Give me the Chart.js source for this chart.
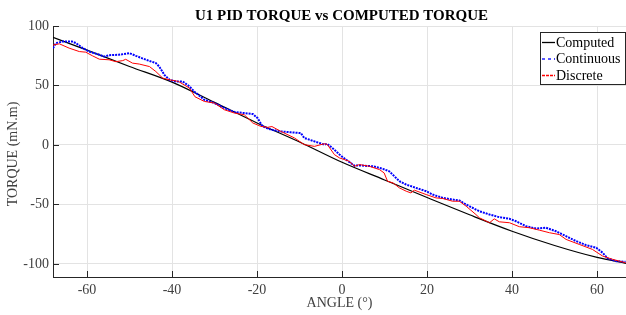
<!DOCTYPE html>
<html>
<head>
<meta charset="utf-8">
<script src="https://cdn.jsdelivr.net/npm/chart.js@4.4.1/dist/chart.umd.min.js"></script>
<style>
  html, body { margin: 0; padding: 0; background: #fff; }
  #wrap { width: 626px; height: 315px; }
</style>
</head>
<body>
<div id="wrap"><canvas id="myChart" width="626" height="315"></canvas></div>
<script>
// values
const computedAngle = [-68, -60, -50, -40, -30, -20, -10, 0, 10, 20, 30, 40, 50, 60, 66.8];
const computedTorque = [90.5, 79.7, 66, 52.8, 35.8, 18.5, 2.5, -14.6, -29.4, -44.2, -58.7, -72.5, -84.5, -94.5, -99.5];

const continuousAngle = [-68, -67.3, -65.8, -63.5, -62.6, -61, -59.5, -57.1, -55.9, -54.8, -52.5, -50, -48.5, -46.1,
  -43.8, -43, -41.8, -40.6, -39.1, -37.5, -35.9, -34.8, -32.4, -30, -27.7, -25.3, -23, -21, -19.9, -18.7, -16.7,
  -14.4, -12, -9.7, -8.9, -6.5, -4.2, -3.5, -1.8, -0.6, 0.9, 2.9, 4.1, 7.2, 9.6, 11.1, 12.3, 13.5, 15.1, 17.4, 19.8,
  21.3, 23.7, 26, 27.6, 29.2, 31.5, 32.3, 34.7, 37, 39.4, 40.9, 43.3, 45.6, 48, 50.3, 52.7, 55.1, 57.4, 59.8, 61.3,
  62.5, 64.5, 66.7];
const continuousTorque = [81.4, 85.6, 86.9, 86.9, 85.6, 81.4, 78.5, 75.8, 74.3, 75.5, 75.8, 77.2, 74.9, 71.6,
  68.8, 65.9, 58.9, 54.8, 53.4, 53.4, 49.2, 45, 38, 35.2, 31, 27.7, 26.8, 26, 22.7, 15.6, 12.8,
  11.4, 10.6, 10, 5.9, 3, 0.3, 1, -4, -8.1, -12.3, -17.4, -17.2, -17.9, -20.1, -22.1, -26.3, -30.5, -33.3, -36.1, -38.9,
  -41.7, -44.5, -45.9, -46.7, -50.1, -54.3, -55.7, -58.5, -60.7, -62.1, -64.1, -68.3, -70.2, -69.6, -72.5, -76.7, -80.9, -84.2, -86.4, -90.6,
  -95.4, -97.7, -98.2];

const discreteAngle = [-68, -66.5, -64.2, -61.8, -60.3, -58.7, -57.1, -54.8, -53.2, -51.6, -50.9, -49.3, -47.7, -45.3,
  -43.8, -42.2, -40.6, -38.5, -35.9, -34.6, -32.4, -30, -27.7, -25.3, -23, -21, -19.1, -17.5, -16.5, -14.4, -11.2,
  -8.9, -6.5, -4.2, -3.5, -1.8, -0.6, 1.7, 2.9, 4.1, 6.4, 8.8, 9.9, 10.7, 12, 13.5, 15.1, 16.2, 17, 19.8, 22.1,
  23.7, 26, 27.6, 29.2, 31.5, 32.3, 34.7, 35.8, 37, 39.4, 41.7, 44.1, 46.4, 48.8, 51.1, 52.7, 55.8, 58.9, 61.3, 63.7, 66.7];
const discreteTorque = [84, 85, 81.4, 78.5, 78, 74.9, 72.1, 71.6, 70, 70.9, 72, 68.8, 68, 65.9,
  61.7, 56.2, 54.8, 53.4, 47.8, 40.5, 36.6, 35.2, 29.6, 26.8, 25.4, 18.5, 15.6, 14.8, 15.5, 11.4, 5.9,
  0.3, -1.2, 1, 0.5, -8.1, -10.9, -13.7, -17.9, -16.5, -17.9, -20.7, -23.5, -30.5, -31.9, -36.1, -38.9, -40.3, -38, -41.7, -44.5,
  -45, -47.3, -47.3, -51.5, -58.5, -61.2, -65.4, -62.1, -64.6, -65.4, -68.7, -69.6, -71.6, -73.8, -75.3, -79.4, -83.6, -87.8, -93.4, -96.2, -99];

const xTicks = [-60, -40, -20, 0, 20, 40, 60];
const yTicks = [-100, -50, 0, 50, 100];
const seriesNames = ['Computed', 'Continuous', 'Discrete'];
const seriesColors = ['#000000', '#0000ff', '#ff0000'];
const legendDash = [[], [3, 3], [3, 1]];

const serif = '"Liberation Serif", "DejaVu Serif", serif';
const textColor = '#404040';

const toPoints = (xs, ys) => xs.map((x, i) => ({ x: x, y: ys[i] }));

// ticks inside the box, title, axis labels and legend, drawn like the matlab figure
const figureDecor = {
  id: 'figureDecor',
  afterDraw(chart) {
    const { ctx, chartArea: a, scales } = chart;
    ctx.save();
    ctx.strokeStyle = '#262626';
    ctx.lineWidth = 1;
    xTicks.forEach((t) => {
      const px = Math.round(scales.x.getPixelForValue(t)) + 0.5;
      ctx.beginPath();
      ctx.moveTo(px, a.bottom);
      ctx.lineTo(px, a.bottom - 6);
      ctx.stroke();
    });
    yTicks.forEach((t) => {
      const py = Math.round(scales.y.getPixelForValue(t)) + 0.5;
      ctx.beginPath();
      ctx.moveTo(a.left, py);
      ctx.lineTo(a.left + 6, py);
      ctx.stroke();
    });

    // title
    ctx.fillStyle = '#000';
    ctx.font = 'bold 15px ' + serif;
    ctx.textAlign = 'center';
    ctx.textBaseline = 'middle';
    ctx.fillText('U1 PID TORQUE vs COMPUTED TORQUE', (a.left + a.right) / 2 + 2, 16);

    // axis labels
    ctx.fillStyle = textColor;
    ctx.font = '14px ' + serif;
    ctx.fillText('ANGLE (\u00B0)', (a.left + a.right) / 2, 303);
    ctx.save();
    ctx.translate(13, 154);
    ctx.rotate(-Math.PI / 2);
    ctx.fillText('TORQUE (mN.m)', 0, 0);
    ctx.restore();

    // legend
    const lx = 540, ly = 32, lw = 85, lh = 52;
    ctx.fillStyle = '#fff';
    ctx.fillRect(lx, ly, lw, lh);
    ctx.strokeStyle = '#262626';
    ctx.strokeRect(lx + 0.5, ly + 0.5, lw, lh);
    seriesNames.forEach((name, i) => {
      const y = ly + 10 + i * 16.5;
      ctx.beginPath();
      ctx.strokeStyle = seriesColors[i];
      ctx.lineWidth = 1.3;
      ctx.setLineDash(legendDash[i]);
      ctx.moveTo(lx + 2, y + 0.5);
      ctx.lineTo(lx + 15, y + 0.5);
      ctx.stroke();
      ctx.setLineDash([]);
      ctx.fillStyle = '#000';
      ctx.font = '14px ' + serif;
      ctx.textAlign = 'left';
      ctx.fillText(name, lx + 16, y + 1);
    });
    ctx.restore();
  },
};

new Chart(document.getElementById('myChart'), {
  type: 'line',
  data: {
    datasets: [
      {
        label: seriesNames[0],
        data: toPoints(computedAngle, computedTorque),
        borderColor: seriesColors[0],
        borderWidth: 1.2,
        cubicInterpolationMode: 'monotone',
        pointRadius: 0,
        order: 3,
      },
      {
        label: seriesNames[1],
        data: toPoints(continuousAngle, continuousTorque),
        borderColor: seriesColors[1],
        borderWidth: 2,
        borderDash: [2, 1],
        pointRadius: 0,
        order: 2,
      },
      {
        label: seriesNames[2],
        data: toPoints(discreteAngle, discreteTorque),
        borderColor: seriesColors[2],
        borderWidth: 1,
        pointRadius: 0,
        order: 1,
      },
    ],
  },
  options: {
    responsive: false,
    animation: false,
    layout: { padding: { top: 26, right: 0, left: 0, bottom: 0 } },
    plugins: {
      legend: { display: false },
      title: { display: false },
      tooltip: { enabled: false },
    },
    scales: {
      x: {
        type: 'linear',
        min: -68,
        max: 66.8,
        afterFit: (s) => { s.height = 38; },
        afterBuildTicks: (s) => { s.ticks = xTicks.map((v) => ({ value: v })); },
        grid: { color: '#e3e3e3', drawTicks: false },
        border: { display: true, color: '#262626', width: 1 },
        ticks: { color: textColor, font: { family: serif, size: 14 }, padding: 5 },
      },
      y: {
        type: 'linear',
        min: -111,
        max: 100,
        afterFit: (s) => { s.width = 53; },
        afterBuildTicks: (s) => { s.ticks = yTicks.map((v) => ({ value: v })); },
        grid: { color: '#e3e3e3', drawTicks: false },
        border: { display: true, color: '#262626', width: 1 },
        ticks: { color: textColor, font: { family: serif, size: 14 }, padding: 4 },
      },
    },
  },
  plugins: [figureDecor],
});
</script>
</body>
</html>
